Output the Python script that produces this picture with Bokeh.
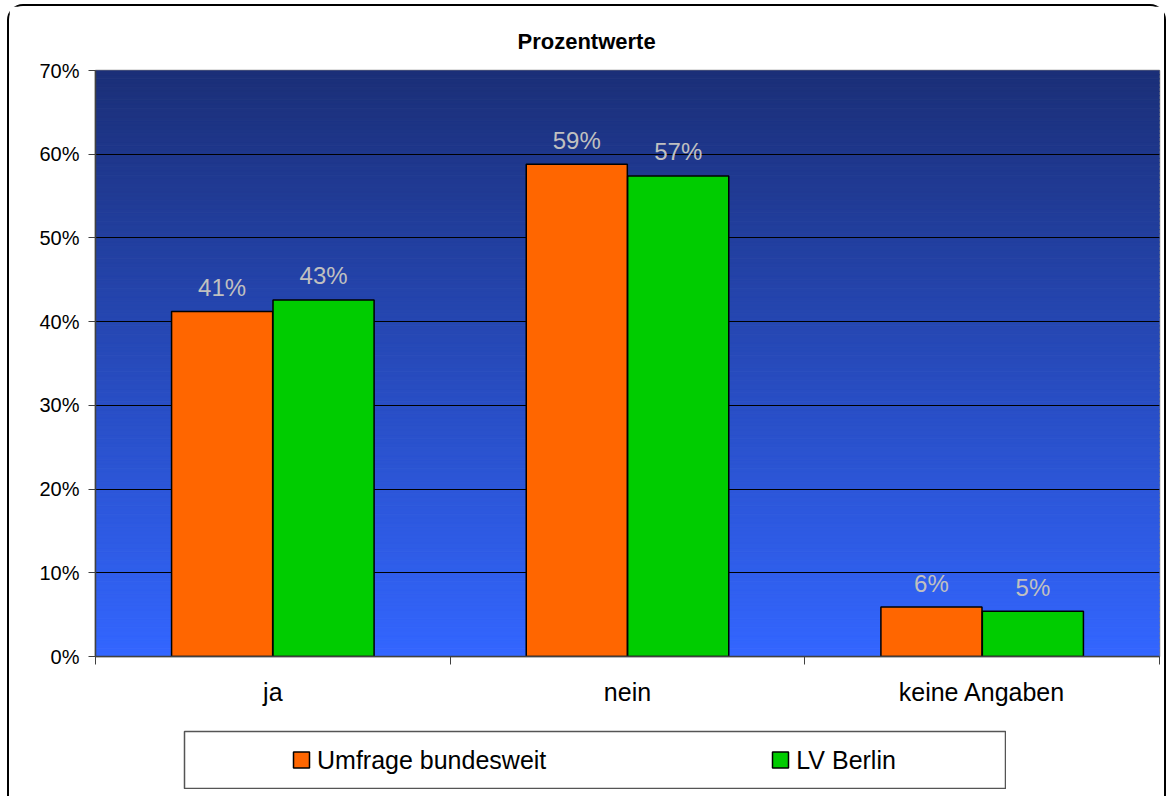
from bokeh.plotting import figure
from bokeh.layouts import column, row
from bokeh.models import (FixedTicker, PrintfTickFormatter, Legend, LegendItem,
                          Range1d, Spacer)
from bokeh.core.properties import value
from bokeh.embed import file_html
from bokeh.resources import INLINE
import numpy as np

# ---------------- data ----------------
categories = ["ja", "nein", "keine Angaben"]
umfrage_bundesweit = [41.2, 58.8, 5.9]
lv_berlin = [42.6, 57.4, 5.4]
series_names = ["Umfrage bundesweit", "LV Berlin"]
y_ticks = [0, 10, 20, 30, 40, 50, 60, 70]
title_text = "Prozentwerte"

FONT = "Liberation Sans"
ORANGE = "#ff6600"
GREEN = "#00cc00"

p = figure(width=1155, height=724, output_backend="svg", toolbar_location=None,
           x_range=Range1d(0, len(categories)), y_range=Range1d(0, y_ticks[-1]),
           min_border_left=86, min_border_right=5, min_border_top=64,
           min_border_bottom=74, title=title_text)
p.border_fill_color = "white"
p.outline_line_color = "#808080"
p.outline_line_width = 1.5

p.title.align = "left"
p.title.offset = 422
p.title.standoff = 33
p.title.text_font = FONT
p.title.text_font_size = "22px"
p.title.text_font_style = "bold"
p.title.text_color = "black"

# ---------------- gradient background (style only) ----------------
nb = 140
edges = np.linspace(0, y_ticks[-1], nb + 1)
top_c = np.array([27, 47, 120])
bot_c = np.array([51, 102, 255])
cols = []
for i in range(nb):
    t = (i + 0.5) / nb
    c = bot_c + (top_c - bot_c) * t
    cols.append("#%02x%02x%02x" % tuple(int(round(v)) for v in c))
bg = p.quad(left=-1, right=len(categories) + 1, bottom=edges[:-1], top=edges[1:],
            fill_color=cols, line_color=cols, line_width=1)
bg.level = "image"

# ---------------- bars ----------------
centers = [i + 0.5 for i in range(len(categories))]
off = 0.143
bw = 0.285
x1 = [c - off for c in centers]
x2 = [c + off for c in centers]
bar_style = dict(width=bw, bottom=0, line_color="black", line_width=1.5)
r1 = p.vbar(x=x1, top=umfrage_bundesweit, fill_color=ORANGE, **bar_style)
r2 = p.vbar(x=x2, top=lv_berlin, fill_color=GREEN, **bar_style)

for xs, vals in ((x1, umfrage_bundesweit), (x2, lv_berlin)):
    p.text(x=xs, y=vals, text=[f"{v:.0f}%" for v in vals],
           text_align="center", text_baseline="alphabetic", y_offset=-24,
           text_color="#c0c0c0", text_font=value(FONT), text_font_size="24px")

# ---------------- axes ----------------
p.xaxis.ticker = FixedTicker(ticks=centers, minor_ticks=list(range(len(categories) + 1)))
p.xaxis.major_label_overrides = {c: cat for c, cat in zip(centers, categories)}
p.xaxis.major_tick_out = 0
p.xaxis.major_tick_in = 0
p.xaxis.minor_tick_out = 8
p.xaxis.minor_tick_in = 0
p.xaxis.minor_tick_line_color = "#404040"
p.xaxis.axis_line_color = "#404040"
p.xaxis.axis_line_width = 1.5
p.xaxis.major_label_standoff = 13
p.xaxis.major_label_text_font = FONT
p.xaxis.major_label_text_font_size = "25px"
p.xaxis.major_label_text_color = "black"

p.yaxis.ticker = FixedTicker(ticks=y_ticks)
p.yaxis.formatter = PrintfTickFormatter(format="%d%%")
p.yaxis.major_tick_out = 7
p.yaxis.major_tick_in = 0
p.yaxis.minor_tick_line_color = None
p.yaxis.major_tick_line_color = "#404040"
p.yaxis.axis_line_color = "#404040"
p.yaxis.axis_line_width = 1.5
p.yaxis.major_label_standoff = 9
p.yaxis.major_label_text_font = FONT
p.yaxis.major_label_text_font_size = "20px"
p.yaxis.major_label_text_color = "black"

p.xgrid.grid_line_color = None
p.ygrid.ticker = FixedTicker(ticks=y_ticks)
p.ygrid.grid_line_color = "black"
p.ygrid.grid_line_width = 1

# ---------------- legend box (separate small plot) ----------------
lf = figure(width=823, height=59, output_backend="svg", toolbar_location=None,
            x_range=p.x_range, y_range=p.y_range, x_axis_type=None,
            y_axis_type=None, min_border=1)
lf.grid.visible = False
lf.outline_line_color = "#555555"
lf.outline_line_width = 1.5
lf.background_fill_color = "white"
lf.border_fill_color = "white"
lr1 = lf.vbar(x=x1, top=umfrage_bundesweit, fill_color=ORANGE, visible=False, **bar_style)
lr2 = lf.vbar(x=x2, top=lv_berlin, fill_color=GREEN, visible=False, **bar_style)

legend = Legend(items=[LegendItem(label=series_names[0], renderers=[lr1]),
                       LegendItem(label=series_names[1], renderers=[lr2])],
                location="left", orientation="horizontal", spacing=224,
                padding=0, margin=107, border_line_color=None,
                background_fill_alpha=0, glyph_width=20, glyph_height=20,
                label_standoff=6, label_text_font=FONT,
                label_text_font_size="25px", label_text_color="black")
lf.add_layout(legend, "center")

layout = column(p, row(Spacer(width=174, height=59), lf), Spacer(width=10, height=7),
                margin=(4, 0, 0, 7),
                styles={"border": "2px solid black", "border-bottom": "none",
                        "border-radius": "16px 16px 0 0", "background": "white"})

open("out.html", "w").write(file_html(layout, INLINE))
